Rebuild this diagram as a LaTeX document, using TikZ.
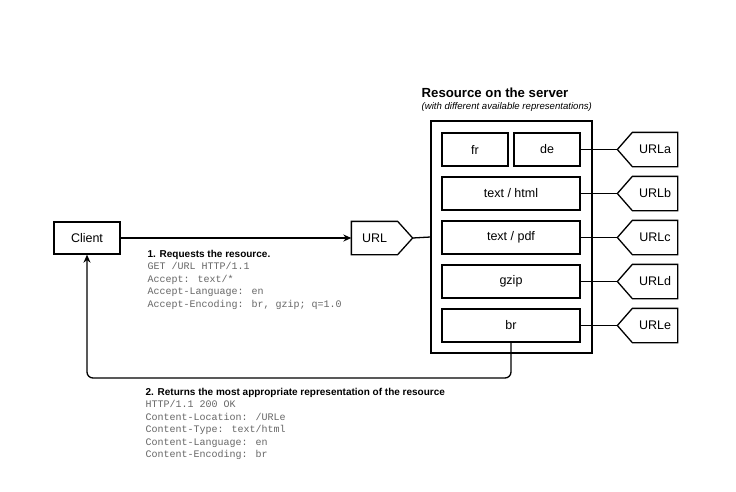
\documentclass[tikz,border=0pt]{standalone}
\usepackage{fontspec}
\setmainfont{Liberation Sans}
\newfontfamily\mymono{Liberation Mono}
\usetikzlibrary{arrows.meta,calc}
\definecolor{monogray}{HTML}{666666}
\begin{document}
\begin{tikzpicture}[x=1pt,y=-1pt,
  line width=1.3pt,
  box/.style={draw, line width=1.3pt, inner sep=0pt, font=\fontsize{12.5}{14}\selectfont},
  hole/.style={inner sep=0pt},
  lbl/.style={anchor=base west, inner sep=0pt, font=\fontsize{10}{12}\selectfont\bfseries},
  mono/.style={anchor=base west, inner sep=0pt, text=monogray, font=\fontsize{10}{12}\selectfont\mymono},
  arr/.style={-{Stealth[length=8pt,width=7pt]}}]
\useasboundingbox (0,0) rectangle (736,491);

% client
\node[box, minimum width=66, minimum height=32] (client) at (87,238) {Client};

% URL left pentagon
\node[hole, minimum width=60, minimum height=32] (url) at (382,238) {};
\draw (url.north west) -- ($(url.north east)+(-15,0)$) -- (url.east) -- ($(url.south east)+(-15,0)$) -- (url.south west) -- cycle;
\node[hole, font=\fontsize{12.5}{14}\selectfont] (urltext) at ($(url.center)+(-7.5,0)$) {URL};

% resource box
\node[box, minimum width=161, minimum height=232] (res) at (511.5,237) {};
\node[box, minimum width=66, minimum height=33] (fr) at (475,149.5) {fr};
\node[box, minimum width=66, minimum height=33] (de) at (547,149.5) {de};
\node[box, minimum width=138, minimum height=33] (html) at (511,193.5) {text / html};
\node[box, minimum width=138, minimum height=33] (pdf) at (511,237.5) {text / pdf};
\node[box, minimum width=138, minimum height=33] (gzip) at (511,281.5) {gzip};
\node[box, minimum width=138, minimum height=33] (br) at (511,325.5) {br};

% title
\node[anchor=base west, inner sep=0pt, font=\fontsize{13.2}{15}\selectfont\bfseries] (title) at (421,97) {Resource on the server};
\node[anchor=base west, inner sep=0pt, font=\fontsize{9.6}{11}\selectfont\itshape] (subtitle) at (421,109) {(with different available representations)};

% right URL pentagons
\foreach \n/\y/\t/\src in {urla/149.5/URLa/de, urlb/193.5/URLb/html, urlc/237.5/URLc/pdf, urld/281.5/URLd/gzip, urle/325.5/URLe/br}{
  \node[hole, minimum width=59, minimum height=33] (\n) at (647.5,\y) {};
  \draw (\n.west) -- ($(\n.north west)+(15,0)$) -- (\n.north east) -- (\n.south east) -- ($(\n.south west)+(15,0)$) -- cycle;
  \node[hole, font=\fontsize{12.5}{14}\selectfont] (\n text) at ($(\n.center)+(7.5,0)$) {\t};
  \draw (\src.east) -- (\n.west);
}

% connectors
\draw[arr] (client.east) -- (url.west);
\draw (url.east) -- (res.west);
\draw[arr, rounded corners=6pt] (br.south) -- (br.south |- 0,378) -- (client.south |- 0,378) -- (client.south);

% labels
\node[lbl] (l1) at (147,257) {1. Requests the resource.};
\node[mono] (l1a) at (147,269.5) {GET /URL HTTP/1.1};
\node[mono] (l1b) at (147,282) {Accept: text/*};
\node[mono] (l1c) at (147,294.5) {Accept-Language: en};
\node[mono] (l1d) at (147,307) {Accept-Encoding: br, gzip; q=1.0};

\node[lbl] (l2) at (145,395) {2. Returns the most appropriate representation of the resource};
\node[mono] (l2a) at (145,407.5) {HTTP/1.1 200 OK};
\node[mono] (l2b) at (145,420) {Content-Location: /URLe};
\node[mono] (l2c) at (145,432.5) {Content-Type: text/html};
\node[mono] (l2d) at (145,445) {Content-Language: en};
\node[mono] (l2e) at (145,457.5) {Content-Encoding: br};
\end{tikzpicture}
\end{document}
